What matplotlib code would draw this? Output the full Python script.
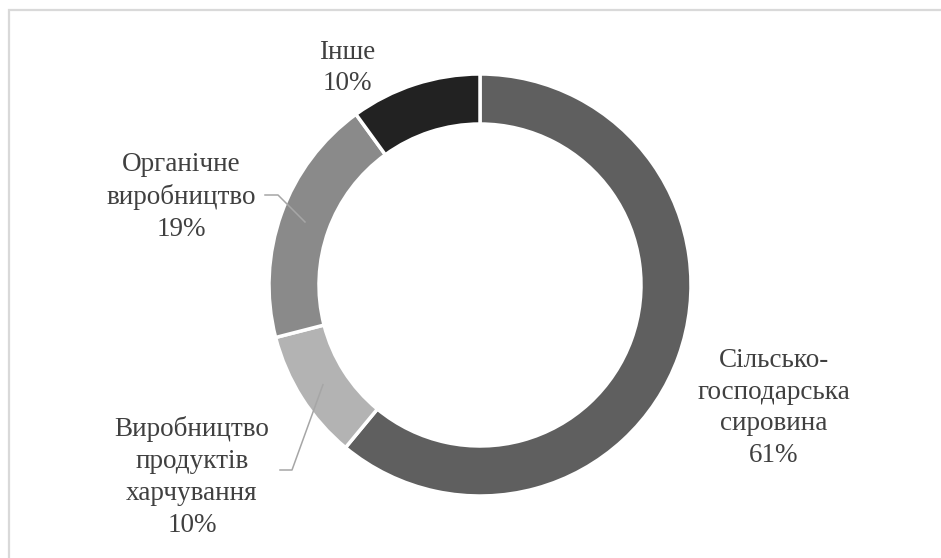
import matplotlib.pyplot as plt
import numpy as np

# sectors, clockwise from the top
labels = ['Сільсько-\nгосподарська\nсировина', 'Виробництво\nпродуктів\nхарчування',
          'Органічне\nвиробництво', 'Інше']
values = [61, 10, 19, 10]
colors = ['#5f5f5f', '#b3b3b3', '#8a8a8a', '#222222']

# label centres in pixels, plus elbow of leader line (None = no leader)
label_pos = [(774, 408), (192, 477), (181, 197), (347, 68)]
leader_elbow = [None, (292, 470), (278, 195), None]
leader_start = [None, (280, 470), (265, 195), None]

W, H = 941, 558
cx, cy = 480, 285
r_out, r_in = 211, 161

plt.rcParams['font.family'] = ['Liberation Serif', 'DejaVu Serif']
fig = plt.figure(figsize=(W / 100, H / 100), dpi=100)
ax = fig.add_axes([0, 0, 1, 1])

ax.pie(values, colors=colors, center=(cx, cy), radius=r_out,
       startangle=-90, counterclock=True,
       wedgeprops=dict(width=r_out - r_in, edgecolor='white', linewidth=2.5))

ax.set_xlim(0, W)
ax.set_ylim(H, 0)
ax.set_aspect('auto')
ax.axis('off')

# chart frame (only top and left edges are inside the image)
ax.plot([9, 9, W], [H, 10, 10], color='#d9d9d9', lw=1.6, solid_joinstyle='miter')

total = sum(values)
cum = np.cumsum([0] + values)
r_mid = (r_out + r_in) / 2
for i, (lab, v) in enumerate(zip(labels, values)):
    x, y = label_pos[i]
    ax.text(x, y, f'{lab}\n{round(v / total * 100)}%', ha='center', va='center',
            fontsize=19.5, color='#404040', linespacing=1.36)
    if leader_elbow[i] is not None:
        ang = np.deg2rad(-90 + 360 * (cum[i] + v / 2) / total)
        px, py = cx + r_mid * np.cos(ang), cy + r_mid * np.sin(ang)
        sx, sy = leader_start[i]
        ex, ey = leader_elbow[i]
        ax.plot([sx, ex, px], [sy, ey, py], color='#a6a6a6', lw=1.1)

fig.savefig('out.png', dpi=100, facecolor='white')
